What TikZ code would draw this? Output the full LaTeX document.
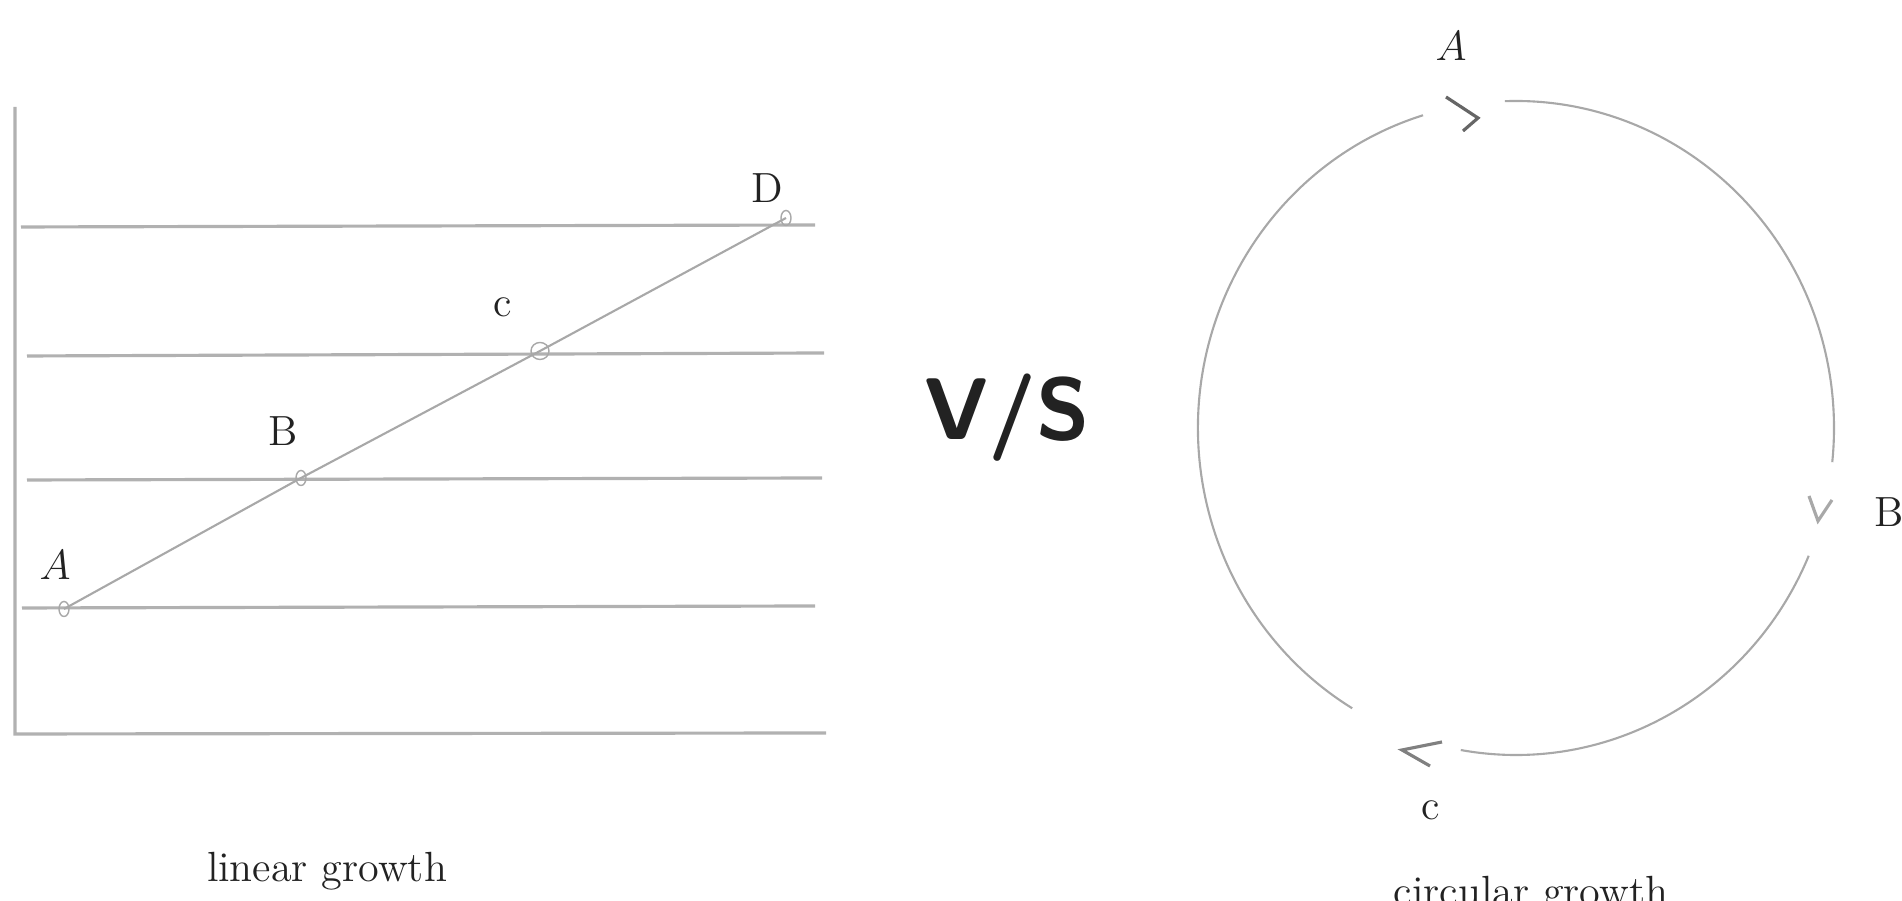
\documentclass[tikz,border=0pt]{standalone}
\usepackage{xcolor}
\usepackage{tikz}
\usetikzlibrary{positioning,shapes.geometric}

\definecolor{pencil}{HTML}{A8A8A8}
\definecolor{ink}{HTML}{222222}

\tikzset{
  sketch/.style={draw=pencil, line width=0.6pt},
  gridline/.style={draw=pencil!90, line width=0.9pt},
  pt/.style={draw=pencil, ellipse, inner sep=0pt, minimum width=0.1cm, minimum height=0.15cm},
  lbl/.style={text=ink, font=\large, inner sep=0pt},
  chev/.style={draw=black!60, line width=0.9pt}
}

\begin{document}
\begin{tikzpicture}[x=0.01cm,y=0.01cm]
    \useasboundingbox (0,0) rectangle (1902,901);
    \clip (0,0) rectangle (1902,901);

    % Linear growth plot
    \draw[gridline] (15,794) -- (15,167) -- (826,168);
    \draw[gridline] (21,674) -- (815,676);
    \draw[gridline] (27,545) -- (824,548);
    \draw[gridline] (27,421) -- (822,423);
    \draw[gridline] (22,293) -- (815,295);

    \node[pt] (pA) at (64,292) {};
    \node[pt] (pB) at (301,423) {};
    \node[pt, minimum width=0.18cm, minimum height=0.17cm] (pC) at (540,550) {};
    \node[pt] (pD) at (786,683) {};
    \draw[sketch] (pA.center) -- (pB.center) -- (pC.center) -- (pD.center);

    \node[lbl] (lA) at (55,336) {$A$};
    \node[lbl] (lB) at (283,470) {B};
    \node[lbl] (lC) at (503,594) {c};
    \node[lbl] (lD) at (767,713) {D};
    \node[lbl] (lin) at (327,30) {linear growth};

    % versus
    \node[text=ink, font=\Huge\bfseries\sffamily] (vs) at (1007,483) {V/S};

    % Circular growth
    \coordinate (ctr) at (1516,473);
    \draw[sketch] (ctr) ++(107:318 and 327) arc[start angle=107, end angle=239, x radius=318, y radius=327];
    \draw[sketch] (ctr) ++(92:318 and 327) arc[start angle=92, end angle=-6, x radius=318, y radius=327];
    \draw[sketch] (ctr) ++(-23:318 and 327) arc[start angle=-23, end angle=-100, x radius=318, y radius=327];

    \coordinate (hA) at (1478,783);
    \coordinate (hB) at (1818,380);
    \coordinate (hC) at (1402,151);
    \draw[chev] ([shift={(-32,21)}]hA) -- (hA) -- ([shift={(-15,-13)}]hA);
    \draw[chev, draw=pencil] ([shift={(-9,25)}]hB) -- (hB) -- ([shift={(14,21)}]hB);
    \draw[chev, draw=black!50] ([shift={(40,8)}]hC) -- (hC) -- ([shift={(28,-16)}]hC);

    \node[lbl] (cA) at (1451,855) {$A$};
    \node[lbl] (cB) at (1889,389) {B};
    \node[lbl] (cC) at (1431,91) {c};
    \node[lbl] (circ) at (1531,6) {circular growth};
\end{tikzpicture}
\end{document}
